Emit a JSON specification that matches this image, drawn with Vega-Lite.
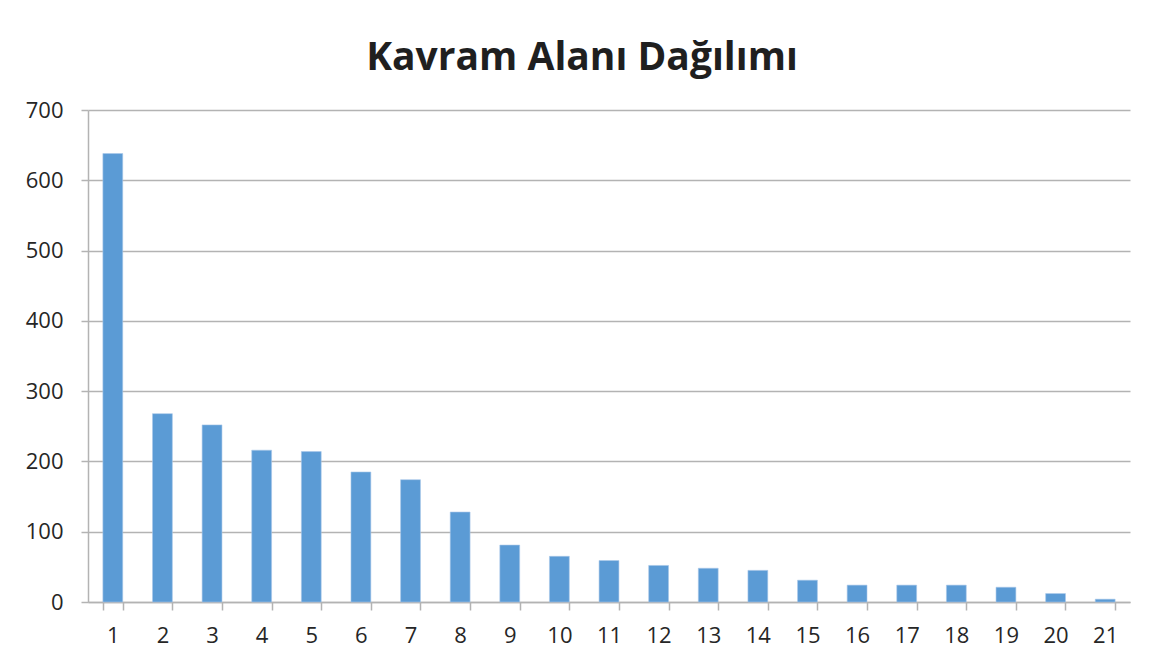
{
  "$schema": "https://vega.github.io/schema/vega-lite/v6.json",
  "width": 1042,
  "height": 492,
  "autosize": {"type": "none"},
  "padding": {"left": 88, "top": 110, "right": 36, "bottom": 67},
  "background": "white",
  "title": {
    "text": "Kavram Alanı Dağılımı",
    "font": "Open Sans",
    "fontSize": 39,
    "fontWeight": "bold",
    "color": "#1f1f1f",
    "anchor": "middle",
    "baseline": "alphabetic",
    "offset": 28,
    "dy": 38,
    "dx": -27
  },
  "data": {
    "values": [
      {"kategori": "1", "sayi": 638},
      {"kategori": "2", "sayi": 268},
      {"kategori": "3", "sayi": 252},
      {"kategori": "4", "sayi": 216},
      {"kategori": "5", "sayi": 214},
      {"kategori": "6", "sayi": 185},
      {"kategori": "7", "sayi": 174},
      {"kategori": "8", "sayi": 128},
      {"kategori": "9", "sayi": 81},
      {"kategori": "10", "sayi": 65},
      {"kategori": "11", "sayi": 59},
      {"kategori": "12", "sayi": 52},
      {"kategori": "13", "sayi": 48},
      {"kategori": "14", "sayi": 45},
      {"kategori": "15", "sayi": 31},
      {"kategori": "16", "sayi": 24},
      {"kategori": "17", "sayi": 24},
      {"kategori": "18", "sayi": 24},
      {"kategori": "19", "sayi": 21},
      {"kategori": "20", "sayi": 12},
      {"kategori": "21", "sayi": 4}
    ]
  },
  "mark": {"type": "bar", "color": "#5B9BD5", "stroke": "#A9C8EA", "strokeWidth": 0.6},
  "encoding": {
    "x": {
      "field": "kategori",
      "type": "ordinal",
      "sort": null,
      "scale": {"paddingInner": 0.6, "paddingOuter": 0.3},
      "axis": {
        "title": null,
        "labelAngle": 0,
        "tickBand": "extent",
        "tickSize": 8,
        "tickColor": "#b3b3b3",
        "domainColor": "#b3b3b3",
        "domainWidth": 1.5,
        "tickWidth": 1.5,
        "labelFont": "Open Sans",
        "labelFontSize": 22,
        "labelColor": "#262626",
        "labelPadding": 15,
        "grid": false
      }
    },
    "y": {
      "field": "sayi",
      "type": "quantitative",
      "scale": {"domain": [0, 700], "nice": false},
      "axis": {
        "title": null,
        "values": [0, 100, 200, 300, 400, 500, 600, 700],
        "tickSize": 7,
        "tickColor": "#b3b3b3",
        "domainColor": "#b3b3b3",
        "domainWidth": 1.5,
        "tickWidth": 1.5,
        "gridColor": "#b3b3b3",
        "gridWidth": 1.5,
        "labelFont": "Open Sans",
        "labelFontSize": 22,
        "labelColor": "#262626",
        "labelPadding": 18
      }
    }
  },
  "config": {"view": {"stroke": null}}
}
